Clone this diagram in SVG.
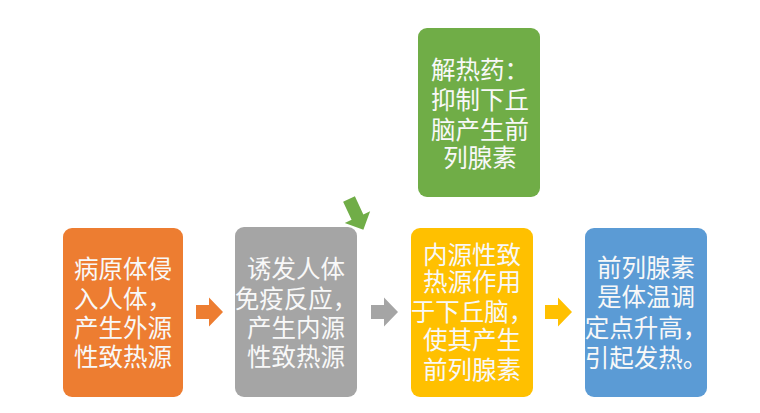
<svg xmlns="http://www.w3.org/2000/svg" width="760" height="413" viewBox="0 0 760 413">
<style>
.t{font-family:"Noto Sans CJK SC","Liberation Sans",sans-serif;font-size:24.5px;fill:#f8f8f8;text-anchor:middle}
</style>
<defs>
<path id="arr" d="M0,-7 L13,-7 L13,-14.5 L27,0 L13,14.5 L13,7 L0,7 Z"/>
</defs>
<rect width="760" height="413" fill="#ffffff"/>
<g id="connectors">
<use href="#arr" x="196" y="312" fill="#ED7D31"/>
<use href="#arr" x="371" y="312" fill="#A5A5A5"/>
<use href="#arr" x="545" y="312" fill="#FFC000"/>
<path d="M0,-6.5 L20,-6.5 L20,-14 L34,0 L20,14 L20,6.5 L0,6.5 Z" fill="#70AD47" transform="translate(349,199) rotate(65)"/>
</g>
<g id="n1">
<rect x="63" y="228" width="120" height="169" rx="9" fill="#ED7D31"/>
<text class="t" x="123" y="278">病原体侵</text>
<text class="t" x="123" y="308">入人体，</text>
<text class="t" x="123" y="337">产生外源</text>
<text class="t" x="123" y="366">性致热源</text>
</g>
<g id="n2">
<rect x="235" y="227" width="122" height="170" rx="9" fill="#A5A5A5"/>
<text class="t" x="296" y="278">诱发人体</text>
<text class="t" x="296" y="308">免疫反应，</text>
<text class="t" x="296" y="337">产生内源</text>
<text class="t" x="296" y="366">性致热源</text>
</g>
<g id="n3">
<rect x="411" y="228" width="122" height="169" rx="9" fill="#FFC000"/>
<text class="t" x="472" y="264">内源性致</text>
<text class="t" x="472" y="291">热源作用</text>
<text class="t" x="472" y="321">于下丘脑，</text>
<text class="t" x="472" y="349">使其产生</text>
<text class="t" x="472" y="379">前列腺素</text>
</g>
<g id="n4">
<rect x="585" y="228" width="122" height="169" rx="9" fill="#5B9BD5"/>
<text class="t" x="646" y="277">前列腺素</text>
<text class="t" x="646" y="306">是体温调</text>
<text class="t" x="646" y="337">定点升高，</text>
<text class="t" x="646" y="367">引起发热。</text>
</g>
<g id="n5">
<rect x="418" y="28" width="122" height="169" rx="9" fill="#70AD47"/>
<text class="t" x="480" y="79">解热药：</text>
<text class="t" x="480" y="109">抑制下丘</text>
<text class="t" x="480" y="139">脑产生前</text>
<text class="t" x="480" y="167">列腺素</text>
</g>
</svg>
